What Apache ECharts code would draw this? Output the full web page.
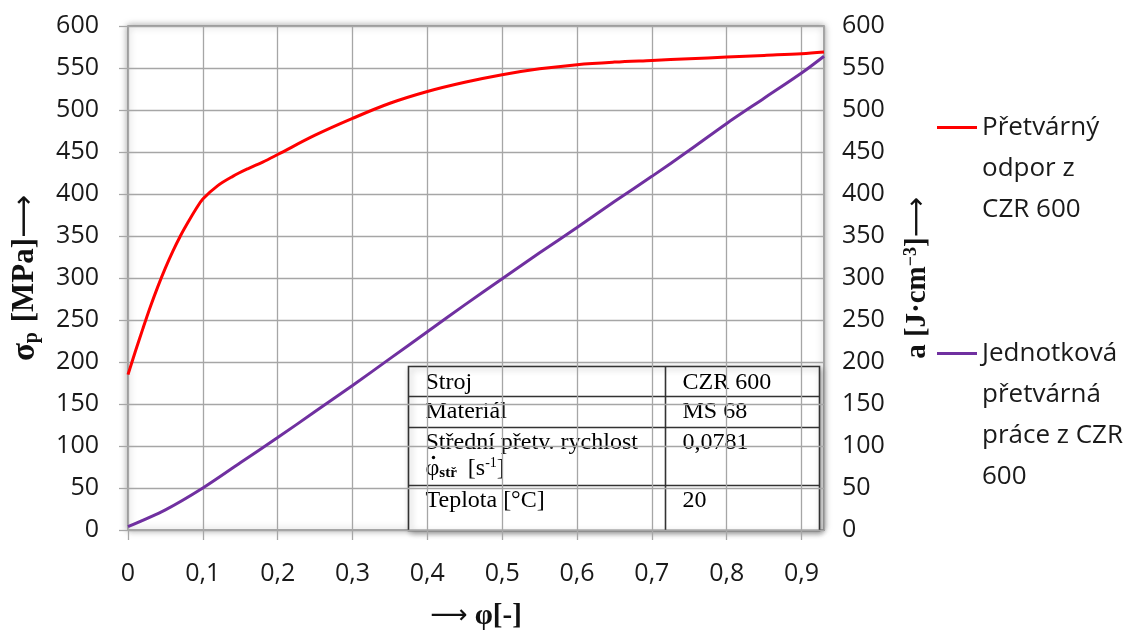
<!DOCTYPE html>
<html>
<head>
<meta charset="utf-8">
<script src="https://cdn.jsdelivr.net/npm/echarts@6/dist/echarts.min.js"></script>
<style>
  html, body { margin: 0; padding: 0; background: #fff; }
  #main { width: 1132px; height: 636px; }
</style>
</head>
<body>
<div id="main"></div>
<script>
// pretvarny odpor (red) - phi vs sigma_p [MPa]
var phiSigma = [0, 0.01, 0.02, 0.03, 0.04, 0.05, 0.06, 0.07, 0.08, 0.09, 0.10, 0.12, 0.14, 0.16, 0.18, 0.20,
    0.25, 0.30, 0.35, 0.40, 0.45, 0.50, 0.55, 0.60, 0.65, 0.70, 0.75, 0.80, 0.85, 0.90, 0.93];
var sigmaP = [185, 213, 240, 266, 290, 312, 332, 350, 366, 381, 394, 410, 421, 430, 438, 447,
    470, 490, 508, 522, 533, 542, 549, 554, 557, 559, 561, 563, 565, 567, 569];

// jednotkova pretvarna prace (purple) - phi vs a [J/cm3]
var phiWork = [0, 0.05, 0.10, 0.15, 0.20, 0.25, 0.30, 0.35, 0.40, 0.45, 0.50, 0.55, 0.60, 0.65, 0.70,
    0.75, 0.80, 0.85, 0.90, 0.93];
var workA = [4, 24, 50, 80, 110, 141, 172, 204, 236, 268, 299, 330, 360, 391, 421, 452, 484, 514, 544, 564];

var seriesNames = ['Přetvárný odpor z CZR 600', 'Jednotková přetvárná práce z CZR 600'];
var legendLines = [['Přetvárný', 'odpor z', 'CZR 600'], ['Jednotková', 'přetvárná', 'práce z CZR', '600']];

var tableLeft = ['Stroj', 'Materiál', 'Střední přetv. rychlost', 'Teplota [°C]'];
var tableRight = ['CZR 600', 'MS 68', '0,0781', '20'];

var sansFont = '"Open Sans", "Noto Sans", sans-serif';
var serifFont = '"Liberation Serif", "DejaVu Serif", serif';
var arrowFont = '"DejaVu Sans", sans-serif';
var lh = 41;
var tFont = '24px ' + serifFont;

function zip(xs, ys) {
    return xs.map(function (x, i) { return [x, ys[i]]; });
}

function phiFormat(v) {
    if (v === 0) return '0';
    return String(+v.toFixed(1)).replace('.', ',');
}

// legend text is centred on its icon, so blank lines on top push the first line level with the line
function legendFor(i, top) {
    var lines = legendLines[i];
    var pad = [];
    for (var k = 0; k < lines.length - 1; k++) pad.push('');
    return {
        orient: 'vertical',
        left: 937,
        top: top,
        padding: 0,
        itemWidth: 40,
        itemHeight: 3,
        itemGap: 0,
        icon: 'rect',
        data: [seriesNames[i]],
        formatter: function () { return pad.concat(lines).join('\n'); },
        textStyle: { fontFamily: sansFont, fontSize: 26, lineHeight: lh, color: '#1a1a1a' }
    };
}

function cell(x, y, text) {
    return { type: 'text', x: x, y: y, style: { text: text, font: tFont, fill: '#000', verticalAlign: 'middle' } };
}

var chart = echarts.init(document.getElementById('main'));

var option = {
    animation: false,
    grid: {
        left: 128, right: 308, top: 26, bottom: 104,
        show: true,
        backgroundColor: '#fff',
        borderColor: '#8c8c8c',
        borderWidth: 1.5,
        shadowBlur: 7,
        shadowColor: 'rgba(0,0,0,0.35)'
    },
    legend: [legendFor(0, 25), legendFor(1, 210)],
    xAxis: {
        type: 'value',
        min: 0, max: 0.93, interval: 0.1,
        name: '{ar|⟶} φ[-]',
        nameLocation: 'middle',
        nameGap: 72,
        nameTextStyle: {
            fontFamily: serifFont, fontWeight: 'bold', fontSize: 29, color: '#111',
            rich: { ar: { fontFamily: arrowFont, fontWeight: 'normal', fontSize: 26, color: '#111' } }
        },
        axisLine: { show: false },
        axisTick: { show: true, length: 10, lineStyle: { color: '#a6a6a6', width: 1.3 } },
        axisLabel: {
            margin: 31, showMaxLabel: false,
            fontFamily: sansFont, fontSize: 25, color: '#1a1a1a',
            formatter: phiFormat
        },
        splitLine: { lineStyle: { color: '#a6a6a6', width: 1.3 } }
    },
    yAxis: [
        {
            type: 'value',
            min: 0, max: 600, interval: 50,
            name: '{s|σ}{sub|p} [MPa]{ar|⟶}',
            nameLocation: 'middle',
            nameGap: 86,
            nameRotate: 90,
            nameTextStyle: {
                fontFamily: serifFont, fontWeight: 'bold', fontSize: 31, color: '#111',
                rich: {
                    s: { fontFamily: serifFont, fontWeight: 'bold', fontSize: 33, color: '#111' },
                    sub: { fontFamily: serifFont, fontWeight: 'bold', fontSize: 20, color: '#111', padding: [14, 2, 0, 0] },
                    ar: { fontFamily: arrowFont, fontWeight: 'normal', fontSize: 30, color: '#111' }
                }
            },
            axisLine: { show: false },
            axisTick: { show: true, length: 9, lineStyle: { color: '#a6a6a6', width: 1.3 } },
            axisLabel: { margin: 29, fontFamily: sansFont, fontSize: 25, color: '#1a1a1a' },
            splitLine: { lineStyle: { color: '#a6a6a6', width: 1.3 } }
        },
        {
            type: 'value',
            position: 'right',
            min: 0, max: 600, interval: 50,
            name: 'a [J·cm{sup|−3}]{ar|⟶}',
            nameLocation: 'middle',
            nameGap: 78,
            nameRotate: 90,
            nameTextStyle: {
                fontFamily: serifFont, fontWeight: 'bold', fontSize: 29, color: '#111',
                rich: {
                    sup: { fontFamily: serifFont, fontWeight: 'bold', fontSize: 18, color: '#111', padding: [0, 0, 14, 0] },
                    ar: { fontFamily: arrowFont, fontWeight: 'normal', fontSize: 28, color: '#111' }
                }
            },
            axisLine: { show: false },
            axisTick: { show: false },
            axisLabel: { margin: 18, fontFamily: sansFont, fontSize: 25, color: '#1a1a1a' },
            splitLine: { show: false }
        }
    ],
    series: [
        {
            name: seriesNames[0],
            type: 'line',
            yAxisIndex: 0,
            data: zip(phiSigma, sigmaP),
            smooth: 0.35,
            showSymbol: false,
            lineStyle: { color: '#ff0000', width: 3 },
            itemStyle: { color: '#ff0000' }
        },
        {
            name: seriesNames[1],
            type: 'line',
            yAxisIndex: 1,
            data: zip(phiWork, workA),
            smooth: 0.3,
            showSymbol: false,
            lineStyle: { color: '#7030a0', width: 3 },
            itemStyle: { color: '#7030a0' }
        }
    ],
    graphic: [
        {
            type: 'group',
            left: 406,
            top: 364,
            z: 100,
            children: [
                {
                    type: 'rect',
                    shape: { x: 0, y: 0, width: 411, height: 164 },
                    style: { fill: '#fff', stroke: '#333', lineWidth: 1.6, shadowBlur: 6, shadowOffsetX: 2, shadowOffsetY: 2, shadowColor: 'rgba(0,0,0,0.3)' }
                },
                { type: 'line', shape: { x1: 257, y1: 0, x2: 257, y2: 164 }, style: { stroke: '#333', lineWidth: 1.6 } },
                { type: 'line', shape: { x1: 0, y1: 30, x2: 411, y2: 30 }, style: { stroke: '#333', lineWidth: 1.6 } },
                { type: 'line', shape: { x1: 0, y1: 61, x2: 411, y2: 61 }, style: { stroke: '#333', lineWidth: 1.6 } },
                { type: 'line', shape: { x1: 0, y1: 119, x2: 411, y2: 119 }, style: { stroke: '#333', lineWidth: 1.6 } },
                cell(17, 16, tableLeft[0]),
                cell(17, 45, tableLeft[1]),
                cell(17, 76, tableLeft[2]),
                {
                    type: 'text', x: 17, y: 102,
                    style: {
                        text: '{a|φ}{sub|stř} [s{sup|-1}]',
                        verticalAlign: 'middle',
                        rich: {
                            a: { font: tFont, fill: '#000' },
                            sub: { font: 'bold 15px ' + serifFont, fill: '#000', padding: [9, 5, 0, 0] },
                            sup: { font: '14px ' + serifFont, fill: '#000', padding: [0, 0, 10, 0] }
                        },
                        font: tFont, fill: '#000'
                    }
                },
                { type: 'circle', shape: { cx: 25, cy: 91, r: 1.7 }, style: { fill: '#000' } },
                cell(17, 134, tableLeft[3]),
                cell(274, 16, tableRight[0]),
                cell(274, 45, tableRight[1]),
                cell(274, 76, tableRight[2]),
                cell(274, 134, tableRight[3])
            ]
        }
    ]
};

chart.setOption(option);
</script>
</body>
</html>
